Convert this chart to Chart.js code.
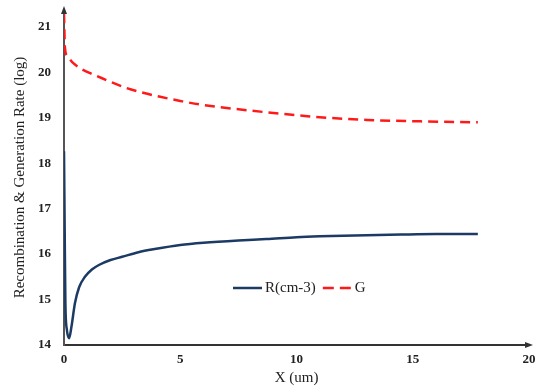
<!DOCTYPE html>
<html>
<head>
<meta charset="utf-8">
<script src="https://cdn.jsdelivr.net/npm/chart.js@4/dist/chart.umd.min.js"></script>
<style>
  html, body { margin: 0; padding: 0; background: #fff; }
  #wrap { width: 541px; height: 387px; }
</style>
</head>
<body>
<div id="wrap"><canvas id="rg_chart" width="541" height="387"></canvas></div>
<script>
// values (x in um, y in log)
var rX = [0, 0.03, 0.06, 0.12, 0.22, 0.32, 0.47, 0.65, 0.9, 1.2, 1.5, 2, 2.5, 3.2, 3.9, 5, 6, 7.5, 8.7, 10, 11, 12.5, 14.5, 16, 17.8];
var rY = [18.26, 16.5, 14.9, 14.35, 14.15, 14.4, 14.92, 15.27, 15.5, 15.66, 15.76, 15.87, 15.94, 16.04, 16.11, 16.2, 16.25, 16.3, 16.33, 16.37, 16.39, 16.41, 16.43, 16.44, 16.44];
var gX = [0, 0.04, 0.15, 0.4, 0.8, 1.26, 2, 2.7, 3.4, 4.14, 5, 5.86, 7.59, 9.31, 10.46, 11.32, 13.05, 15.34, 17.8];
var gY = [21.3, 20.54, 20.35, 20.2, 20.06, 19.95, 19.79, 19.65, 19.55, 19.46, 19.37, 19.29, 19.18, 19.09, 19.035, 19.0, 18.95, 18.92, 18.9];
var seriesNames = ["R(cm-3)", "G"];
var xTicks = [0, 5, 10, 15, 20];
var yTicks = [14, 15, 16, 17, 18, 19, 20, 21];

function toPoints(xs, ys) {
  return xs.map(function (x, i) { return { x: x, y: ys[i] }; });
}

var serif = "'Liberation Serif', 'DejaVu Serif', serif";

// arrows on the axis ends + legend inside the plot
var extras = {
  id: "extras",
  afterDraw: function (chart) {
    var c = chart.ctx, a = chart.chartArea;
    c.save();
    c.fillStyle = "#333";
    // y arrow
    c.beginPath();
    c.moveTo(a.left, a.top - 4);
    c.lineTo(a.left - 3, a.top + 4);
    c.lineTo(a.left + 3, a.top + 4);
    c.closePath();
    c.fill();
    // x arrow
    c.beginPath();
    c.moveTo(a.right + 4, a.bottom);
    c.lineTo(a.right - 4, a.bottom - 3);
    c.lineTo(a.right - 4, a.bottom + 3);
    c.closePath();
    c.fill();

    // legend
    var lx = 233, ly = 288;
    c.font = "15px " + serif;
    c.textBaseline = "middle";
    chart.data.datasets.forEach(function (ds) {
      c.strokeStyle = ds.borderColor;
      c.lineWidth = 2.5;
      c.setLineDash(ds.borderDash ? [11, 6] : []);
      c.beginPath();
      c.moveTo(lx, ly);
      c.lineTo(lx + 29, ly);
      c.stroke();
      c.setLineDash([]);
      c.fillStyle = "#222";
      c.fillText(ds.label, lx + 32, ly);
      lx += 32 + c.measureText(ds.label).width + 7;
    });
    c.restore();
  }
};

var ctx = document.getElementById("rg_chart").getContext("2d");
var rg_chart = new Chart(ctx, {
  type: "line",
  data: {
    datasets: [
      {
        label: seriesNames[0],
        data: toPoints(rX, rY),
        borderColor: "#1c3a64",
        borderWidth: 2.5,
        pointRadius: 0,
        cubicInterpolationMode: "monotone",
      },
      {
        label: seriesNames[1],
        data: toPoints(gX, gY),
        borderColor: "#ff1a1a",
        borderWidth: 2.5,
        borderDash: [10, 6],
        pointRadius: 0,
        cubicInterpolationMode: "monotone",
      },
    ],
  },
  options: {
    responsive: false,
    animation: false,
    layout: { padding: { top: 10, right: 12, left: 0, bottom: 0 } },
    scales: {
      x: {
        type: "linear",
        min: 0,
        max: 20,
        afterBuildTicks: function (s) { s.ticks = xTicks.map(function (v) { return { value: v }; }); },
        afterFit: function (s) { s.height = 42; s.paddingLeft = 0; s.paddingRight = 0; },
        grid: { display: false, drawTicks: false },
        border: { display: true, color: "#333", width: 2 },
        ticks: { padding: 7, color: "#222", font: { family: serif, size: 13, weight: "bold" } },
        title: {
          display: true,
          text: "X (um)",
          color: "#222",
          padding: { top: 1, bottom: 0 },
          font: { family: serif, size: 15 },
        },
      },
      y: {
        type: "linear",
        min: 14,
        max: 21.37,
        afterBuildTicks: function (s) { s.ticks = yTicks.map(function (v) { return { value: v }; }); },
        afterFit: function (s) { s.width = 64; s.paddingTop = 0; s.paddingBottom = 0; },
        grid: { display: false, drawTicks: false },
        border: { display: true, color: "#555", width: 2 },
        ticks: { padding: 13, color: "#222", font: { family: serif, size: 13, weight: "bold" } },
        title: {
          display: true,
          text: "Recombination & Generation Rate (log)",
          color: "#222",
          padding: { top: 11, bottom: 0 },
          font: { family: serif, size: 15 },
        },
      },
    },
    plugins: {
      legend: { display: false },
      tooltip: { enabled: false },
    },
  },
  plugins: [extras],
});
</script>
</body>
</html>
